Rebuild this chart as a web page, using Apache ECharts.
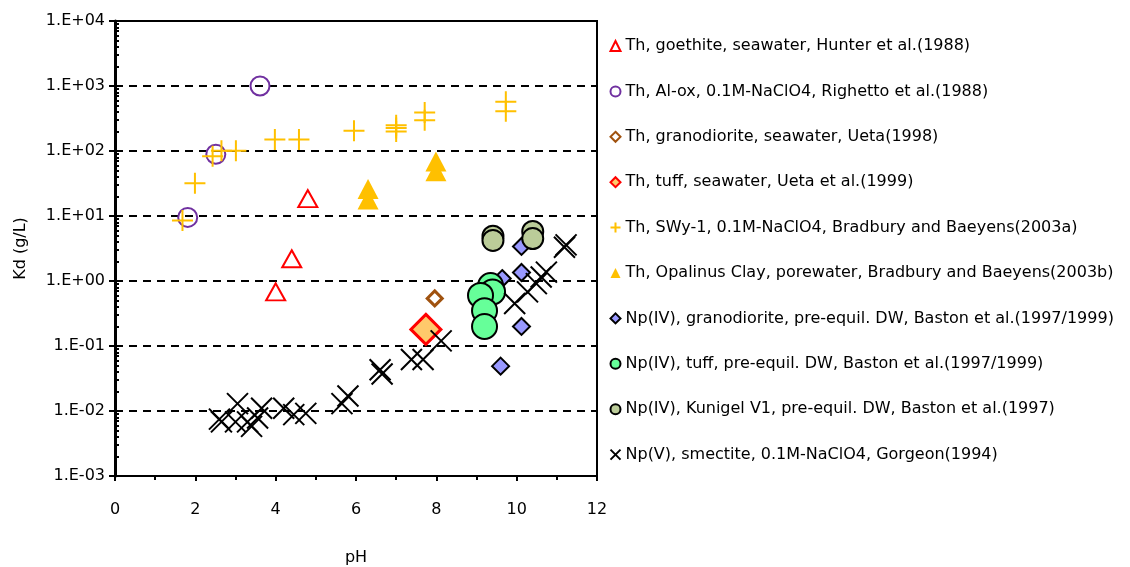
<!DOCTYPE html>
<html>
<head>
<meta charset="utf-8">
<script src="https://cdn.jsdelivr.net/npm/echarts@6/dist/echarts.min.js"></script>
<style>
  html, body { margin: 0; padding: 0; background: #fff; }
  #chart { width: 1130px; height: 567px; }
</style>
</head>
<body>
<div id="chart"></div>
<script>
  // [pH, Kd(g/L)]
  const thGoethite = [[4.8, 18.5], [4.4, 2.2], [4.0, 0.68]]
  const thAlOx = [[3.61, 1000], [2.51, 89], [1.81, 9.5]]
  const thGranodiorite = [[7.96, 0.54]]
  const thTuff = [[7.74, 0.18]]
  const thSwy1 = [
    [1.68, 8.5], [1.99, 32], [2.43, 83], [2.65, 101], [3.01, 101],
    [3.98, 150], [4.58, 150], [5.95, 205], [7.0, 250], [7.0, 225], [7.0, 200],
    [7.71, 390], [7.71, 296], [9.73, 570], [9.73, 410]
  ]
  const thOpalinus = [[6.3, 26], [6.3, 18], [7.99, 69], [7.99, 49]]
  const npGranodiorite = [[10.12, 3.4], [10.12, 1.35], [9.64, 1.09], [10.12, 0.2], [9.6, 0.049]]
  const npTuff = [[9.35, 0.85], [9.4, 0.68], [9.1, 0.6], [9.2, 0.35], [9.2, 0.2]]
  const npKunigel = [[9.41, 4.9], [9.41, 4.2], [10.4, 5.8], [10.4, 4.5]]
  const npSmectite = [
    [2.6, 0.0075], [2.65, 0.0068], [3.05, 0.013], [3.0, 0.0068], [3.3, 0.0068],
    [3.4, 0.0058], [3.55, 0.0078], [3.65, 0.011], [4.2, 0.011], [4.45, 0.0088],
    [4.75, 0.0092], [5.65, 0.013], [5.8, 0.017], [6.6, 0.043], [6.65, 0.037],
    [7.38, 0.062], [7.67, 0.062], [8.12, 0.12], [9.95, 0.45], [10.27, 0.68],
    [10.49, 0.91], [10.61, 1.15], [10.74, 1.37], [11.19, 3.3], [11.23, 3.6]
  ]

  const seriesNames = [
    'Th, goethite, seawater, Hunter et al.(1988)',
    'Th, Al-ox, 0.1M-NaClO4, Righetto et al.(1988)',
    'Th, granodiorite, seawater, Ueta(1998)',
    'Th, tuff, seawater, Ueta et al.(1999)',
    'Th, SWy-1, 0.1M-NaClO4, Bradbury and Baeyens(2003a)',
    'Th, Opalinus Clay, porewater, Bradbury and Baeyens(2003b)',
    'Np(IV), granodiorite, pre-equil. DW, Baston et al.(1997/1999)',
    'Np(IV), tuff, pre-equil. DW, Baston et al.(1997/1999)',
    'Np(IV), Kunigel V1, pre-equil. DW, Baston et al.(1997)',
    'Np(V), smectite, 0.1M-NaClO4, Gorgeon(1994)'
  ]

  const minorTicks = []
  for (let e = -3; e < 4; e++) {
    for (let m = 2; m <= 9; m++) minorTicks.push(m * Math.pow(10, e))
  }

  const FONT = '"DejaVu Sans", "Noto Sans", sans-serif'
  const PLUS = 'path://M5,0 L5,10 M0,5 L10,5'
  const CROSS = 'path://M0,0 L10,10 M10,0 L0,10'

  function logLabel (v) {
    const e = Math.round(Math.log10(v))
    return '1.E' + (e < 0 ? '-' : '+') + String(Math.abs(e)).padStart(2, '0')
  }

  const chart = echarts.init(document.getElementById('chart'))
  const option = {
    animation: false,
    backgroundColor: '#fff',
    textStyle: { fontFamily: FONT },
    grid: {
      left: 115, right: 533, top: 21, bottom: 91,
      outerBoundsMode: 'none',
      show: true, borderColor: '#000', borderWidth: 2
    },
    legend: {
      orient: 'vertical',
      left: 603,
      top: 33,
      itemWidth: 10,
      itemHeight: 10,
      itemGap: 29.4,
      textStyle: { color: '#000', fontSize: 16, fontFamily: FONT },
      data: seriesNames
    },
    xAxis: {
      type: 'value',
      min: 0,
      max: 12,
      interval: 2,
      name: 'pH',
      nameLocation: 'middle',
      nameGap: 74,
      nameTextStyle: { color: '#000', fontSize: 16 },
      axisLine: { lineStyle: { color: '#000', width: 2 } },
      axisTick: { length: 5, lineStyle: { color: '#000', width: 2 } },
      minorTick: { show: true, splitNumber: 2, length: 4, lineStyle: { color: '#000', width: 2 } },
      axisLabel: { color: '#000', fontSize: 16, margin: 26 },
      splitLine: { show: false }
    },
    yAxis: [
      {
        type: 'log',
        min: 0.001,
        max: 10000,
        logBase: 10,
        name: 'Kd (g/L)',
        nameLocation: 'middle',
        nameGap: 86,
        nameTextStyle: { color: '#000', fontSize: 16 },
        axisLine: { lineStyle: { color: '#000', width: 3 } },
        axisTick: { length: 6, lineStyle: { color: '#000', width: 2 } },
        axisLabel: { color: '#000', fontSize: 16, margin: 10, formatter: logLabel },
        splitLine: { show: true, lineStyle: { color: '#000', width: 2, type: [8, 6] } }
      },
      {
        type: 'log',
        min: 0.001,
        max: 10000,
        position: 'left',
        axisLine: { show: false },
        axisTick: { inside: true, length: 4, customValues: minorTicks, lineStyle: { color: '#000', width: 2 } },
        axisLabel: { show: false },
        splitLine: { show: false }
      }
    ],
    series: [
      {
        name: seriesNames[0], type: 'scatter', data: thGoethite,
        symbol: 'triangle', symbolSize: [19, 17],
        itemStyle: { color: '#fff', borderColor: '#FF0000', borderWidth: 2, opacity: 1 }
      },
      {
        name: seriesNames[1], type: 'scatter', data: thAlOx,
        symbol: 'circle', symbolSize: 19,
        itemStyle: { color: 'rgba(255,255,255,0)', borderColor: '#7030A0', borderWidth: 2, opacity: 1 }
      },
      {
        name: seriesNames[2], type: 'scatter', data: thGranodiorite,
        symbol: 'diamond', symbolSize: 15,
        itemStyle: { color: '#fff', borderColor: '#A0520F', borderWidth: 3, opacity: 1 }
      },
      {
        name: seriesNames[3], type: 'scatter', data: thTuff,
        symbol: 'diamond', symbolSize: 30,
        itemStyle: { color: '#FFC96B', borderColor: '#FF0000', borderWidth: 3, opacity: 1 }
      },
      {
        name: seriesNames[4], type: 'scatter', data: thSwy1,
        symbol: PLUS, symbolSize: 21,
        itemStyle: { color: 'none', borderColor: '#FFC000', borderWidth: 2, opacity: 1 }
      },
      {
        name: seriesNames[5], type: 'scatter', data: thOpalinus,
        symbol: 'triangle', symbolSize: [21, 20],
        itemStyle: { color: '#FFC000', opacity: 1 }
      },
      {
        name: seriesNames[6], type: 'scatter', data: npGranodiorite,
        symbol: 'diamond', symbolSize: 17,
        itemStyle: { color: '#9999FF', borderColor: '#000', borderWidth: 2, opacity: 1 }
      },
      {
        name: seriesNames[7], type: 'scatter', data: npTuff,
        symbol: 'circle', symbolSize: 25,
        itemStyle: { color: '#66FF99', borderColor: '#000', borderWidth: 2, opacity: 1 }
      },
      {
        name: seriesNames[8], type: 'scatter', data: npKunigel,
        symbol: 'circle', symbolSize: 21,
        itemStyle: { color: '#BBCC99', borderColor: '#000', borderWidth: 2, opacity: 1 }
      },
      {
        name: seriesNames[9], type: 'scatter', data: npSmectite,
        symbol: CROSS, symbolSize: 21,
        itemStyle: { color: 'none', borderColor: '#000', borderWidth: 2, opacity: 1 }
      }
    ]
  }
  chart.setOption(option)
</script>
</body>
</html>
